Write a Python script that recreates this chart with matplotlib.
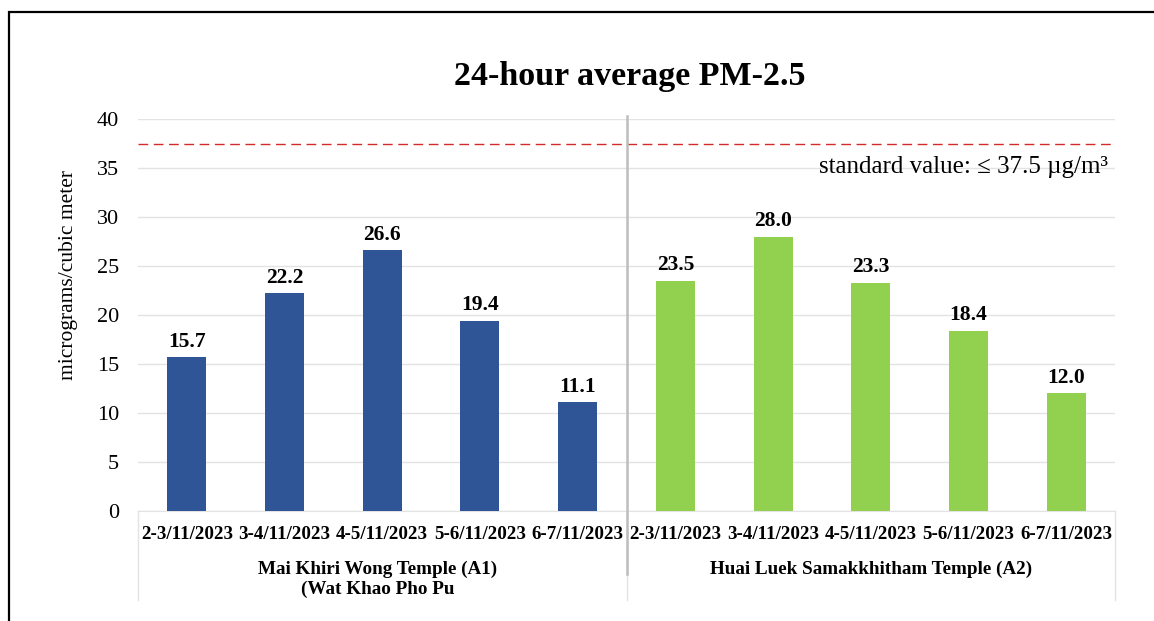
import matplotlib
matplotlib.use("Agg")
import matplotlib.pyplot as plt
import matplotlib.transforms as mtransforms
from matplotlib.patches import Rectangle
import numpy as np

# data
dates = ["2-3/11/2023", "3-4/11/2023", "4-5/11/2023", "5-6/11/2023", "6-7/11/2023"]
a1_values = [15.7, 22.2, 26.6, 19.4, 11.1]
a2_values = [23.5, 28.0, 23.3, 18.4, 12.0]
groups = ["Mai Khiri Wong Temple (A1)\n(Wat Khao Pho Pu", "Huai Luek Samakkhitham Temple (A2)"]
standard = 37.5

plt.rcParams["font.family"] = ["Liberation Serif", "DejaVu Serif"]

fig = plt.figure(figsize=(11.54, 6.21), dpi=100)
ax = fig.add_axes([138 / 1154, 1 - 511 / 621, 977 / 1154, 392 / 621])

# outer border (cut off on the right and bottom, as in the source)
fig.patches.append(Rectangle((9 / 1154, -0.1), 1.2, 1 - 12 / 621 + 0.1,
                             transform=fig.transFigure, fill=False,
                             edgecolor="black", linewidth=1.6))

n = len(dates)
x1 = np.arange(n)
x2 = np.arange(n) + n
bars1 = ax.bar(x1, a1_values, width=0.4, color="#2F5597", zorder=3)
bars2 = ax.bar(x2, a2_values, width=0.4, color="#92D050", zorder=3)

for bars, vals in [(bars1, a1_values), (bars2, a2_values)]:
    for b, v in zip(bars, vals):
        ax.annotate(f"{v:.1f}", (b.get_x() + b.get_width() / 2, v),
                    xytext=(0, 4), textcoords="offset points",
                    ha="center", va="bottom", fontsize=15.5, fontweight="bold")

ax.axhline(standard, color="#D42A2A", linewidth=1, dashes=(7, 4), zorder=4)
ax.text(0.993, 0.877, "standard value: \u2264 37.5 \u00b5g/m\u00b3", transform=ax.transAxes,
        ha="right", va="center", fontsize=18)

ax.set_xlim(-0.5, 2 * n - 0.5)
ax.set_ylim(0, 40)
ax.set_yticks(range(0, 41, 5))
ax.yaxis.grid(True, color="#E3E3E3", linewidth=1)
ax.set_axisbelow(True)
for s in ["top", "right", "left"]:
    ax.spines[s].set_visible(False)
ax.spines["bottom"].set_color("#E3E3E3")
ax.tick_params(axis="y", length=0, pad=13.5, labelsize=16)
ax.set_xticks(list(x1) + list(x2))
ax.set_xticklabels(dates + dates, fontweight="bold", fontsize=13.7)
ax.tick_params(axis="x", length=0, pad=10.5)

fig.text(68 / 1154, 1 - 275 / 621, "micrograms/cubic meter", rotation=90,
         ha="center", va="center", fontsize=15.5)
fig.text(630 / 1154, 1 - 77 / 621, "24-hour average PM-2.5", ha="center", va="center",
         fontsize=24.5, fontweight="bold")

# group labels and separators
trans = mtransforms.blended_transform_factory(ax.transData, ax.transAxes)
ax.text((n - 1) / 2 - 0.05, -0.127, groups[0], transform=trans, ha="center", va="top",
        fontsize=13.8, fontweight="bold", linespacing=1.2)
ax.text(n + (n - 1) / 2, -0.127, groups[1], transform=trans, ha="center", va="top",
        fontsize=13.8, fontweight="bold")
for xs in [-0.5, n - 0.5, 2 * n - 0.5]:
    ax.plot([xs, xs], [0, -0.227], transform=trans, color="#E3E3E3",
            linewidth=1, clip_on=False)
ax.plot([n - 0.5, n - 0.5], [-0.161, 1.008], transform=trans, color="#BDBDBD",
        linewidth=1.8, clip_on=False, zorder=5)

fig.savefig("out.png", dpi=100)
